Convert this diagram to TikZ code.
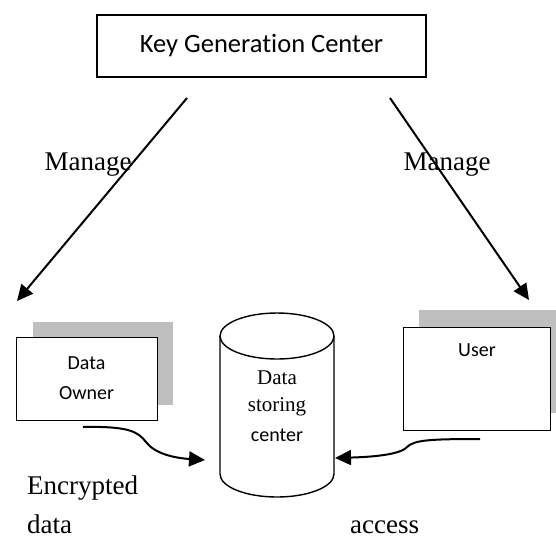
\documentclass[tikz,border=0pt]{standalone}
\usepackage{fontspec}
\setmainfont{Liberation Serif}
\newfontfamily\calib[Ligatures=NoCommon]{Carlito}
\usetikzlibrary{arrows.meta}
\tikzset{
  boxstyle/.style={draw, line width=1.4pt, fill=white},
  shadowstyle/.style={fill=black!25, draw=none},
  conn/.style={line width=2pt, -{Triangle[length=16pt,width=15pt]}},
  bigserif/.style={font=\fontsize{27}{32}\selectfont, inner sep=0pt},
  boxlabel/.style={font=\calib\fontsize{20}{24}\selectfont, inner sep=0pt},
  cyllabel/.style={font=\fontsize{21}{25}\selectfont, inner sep=0pt}
}
\begin{document}
\begin{tikzpicture}[x=1pt,y=-1pt]
\useasboundingbox (0,0) rectangle (556,539);
% Key generation center
\node[boxstyle, minimum width=329pt, minimum height=62pt, font=\calib\fontsize{26.5}{32}\selectfont] (kgc) at (261.5,46) {Key Generation Center};
% manage arrows
\coordinate (kl) at (187,98);
\coordinate (kr) at (390,98);
\coordinate (owntop) at (17,301);
\coordinate (usertop) at (529,300);
\draw[conn] (kl) -- (owntop);
\draw[conn] (kr) -- (usertop);
\node[bigserif, anchor=base] (m1) at (88,170) {Manage};
\node[bigserif, anchor=base] (m2) at (447,170) {Manage};
% Data owner
\fill[shadowstyle] (33,322) rectangle (173,405);
\node[boxstyle, minimum width=141pt, minimum height=83pt, anchor=north west] (owner) at (16,337) {};
\node[boxlabel] (ownerl1) at (86.5,363) {Data};
\node[boxlabel] (ownerl2) at (86.5,393) {Owner};
% User
\fill[shadowstyle] (419,310) rectangle (556,413);
\node[boxstyle, minimum width=147pt, minimum height=103pt, anchor=north west] (user) at (403,327) {};
\node[boxlabel] (userl) at (477,350) {User};
% Cylinder
\draw[line width=1.4pt, fill=white] (220,336) -- (220,474) arc[start angle=180, end angle=360, x radius=57pt, y radius=23pt] -- (334,336);
\draw[line width=1.4pt] (277,336) ellipse[x radius=57pt, y radius=23pt];
\node[cyllabel] (c1) at (277,378) {Data};
\node[cyllabel] (c2) at (277,407) {storing};
\node[boxlabel] (c3) at (277,435) {center};
\coordinate (cylL) at (205,460);
\coordinate (cylR) at (335,458);
% curved connectors
\coordinate (ownout) at (83,427);
\coordinate (userout) at (480,439);
\draw[conn] (ownout) .. controls (130,426) and (138,432) .. (146,442) .. controls (155,454) and (175,458) .. (cylL);
\draw[conn] (userout) .. controls (430,439) and (414,440) .. (407,447) .. controls (400,455) and (370,457) .. (cylR);
% bottom labels
\node[bigserif, anchor=base west] (enc1) at (27,494) {Encrypted};
\node[bigserif, anchor=base west] (enc2) at (27,533) {data};
\node[bigserif, anchor=base west] (acc) at (350,533) {access};
\end{tikzpicture}
\end{document}
